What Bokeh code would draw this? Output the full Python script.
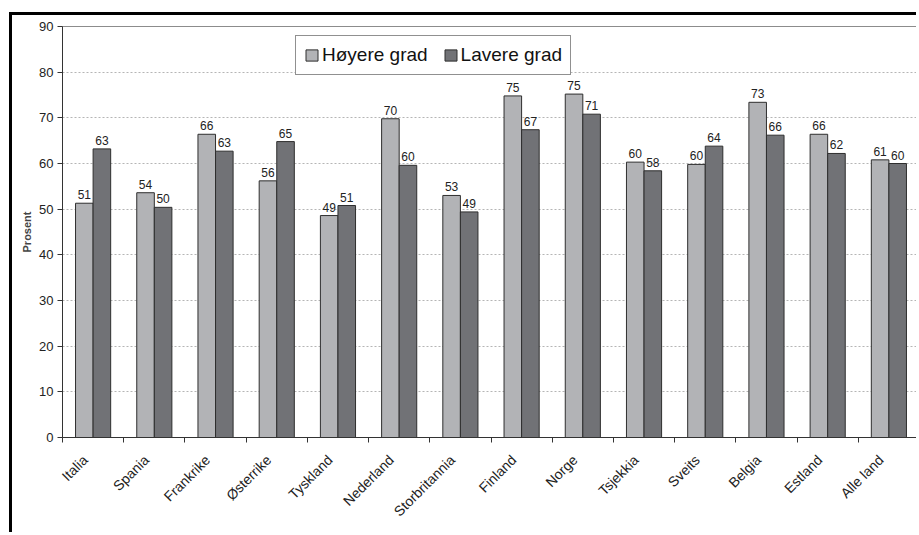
import math
from bokeh.plotting import figure
from bokeh.models import (ColumnDataSource, FixedTicker, Range1d, Legend, LegendItem,
                          LabelSet)
from bokeh.core.properties import value
from bokeh.embed import file_html
from bokeh.resources import INLINE

# Share of respondents (percent) by country, higher vs. lower education
countries = ["Italia", "Spania", "Frankrike", "Østerrike", "Tyskland", "Nederland",
             "Storbritannia", "Finland", "Norge", "Tsjekkia", "Sveits", "Belgia",
             "Estland", "Alle land"]
hoyere = [51.3, 53.6, 66.4, 56.2, 48.6, 69.8, 53.0, 74.8, 75.2, 60.3, 59.8, 73.4, 66.4, 60.8]
lavere = [63.2, 50.4, 62.7, 64.8, 50.8, 59.6, 49.4, 67.4, 70.8, 58.4, 63.8, 66.2, 62.2, 60.0]
series_names = ["Høyere grad", "Lavere grad"]
y_ticks = [0, 10, 20, 30, 40, 50, 60, 70, 80, 90]

FONT = "Liberation Sans"
LIGHT = "#b2b3b6"
DARK = "#717276"
EDGE = "#2e2e2e"

n = len(countries)
centers = [i + 0.5 for i in range(n)]
label_pos = [c - 0.13 for c in centers]
bw = 0.287

src = ColumnDataSource(dict(
    x_h=[c - bw / 2 for c in centers],
    x_l=[c + bw / 2 for c in centers],
    h=hoyere, l=lavere,
    h_lab=[str(round(v)) for v in hoyere],
    l_lab=[str(round(v)) for v in lavere],
))

p = figure(width=907, height=520, x_range=Range1d(0, n), y_range=Range1d(0, 90),
           output_backend="svg", toolbar_location=None,
           min_border_left=50, min_border_right=0, min_border_top=11, min_border_bottom=98)
p.margin = (12, 0, 0, 9)
p.styles = {"border-top": "3px solid #000", "border-left": "3px solid #000"}
p.background_fill_color = "white"
p.border_fill_color = "white"
p.outline_line_color = "#8c8c8c"
p.outline_line_width = 1

r_h = p.vbar(x="x_h", top="h", width=bw, source=src, fill_color=LIGHT,
             line_color=EDGE, line_width=1)
r_l = p.vbar(x="x_l", top="l", width=bw, source=src, fill_color=DARK,
             line_color=EDGE, line_width=1)

for xcol, ycol, tcol in (("x_h", "h", "h_lab"), ("x_l", "l", "l_lab")):
    p.add_layout(LabelSet(x=xcol, y=ycol, text=tcol, source=src, y_offset=4,
                          text_align="center", text_baseline="bottom",
                          text_font=value(FONT), text_font_size=value("12px"),
                          text_color=value("#222222")))

# x axis: labels under category centres, tick marks at category boundaries
xa = p.xaxis[0]
xa.ticker = FixedTicker(ticks=label_pos, minor_ticks=list(range(n + 1)))
xa.major_label_overrides = {c: name for c, name in zip(label_pos, countries)}
xa.major_label_orientation = math.pi / 4
xa.major_tick_line_color = None
xa.minor_tick_line_color = "#333333"
xa.minor_tick_out = 5
xa.minor_tick_in = 0
xa.axis_line_color = "#333333"
xa.major_label_text_font = FONT
xa.major_label_text_font_size = "14px"
xa.major_label_text_color = "#222222"
xa.major_label_standoff = 14

ya = p.yaxis[0]
ya.ticker = FixedTicker(ticks=y_ticks)
ya.minor_tick_line_color = None
ya.major_tick_out = 5
ya.major_tick_in = 0
ya.major_tick_line_color = "#333333"
ya.axis_line_color = "#333333"
ya.major_label_text_font = FONT
ya.major_label_text_font_size = "13px"
ya.major_label_text_color = "#222222"
ya.major_label_standoff = 4
ya.axis_label = "Prosent"
ya.axis_label_text_font = FONT
ya.axis_label_text_font_style = "bold"
ya.axis_label_text_font_size = "11px"
ya.axis_label_standoff = 3

p.xgrid.grid_line_color = None
p.ygrid.grid_line_color = "#b5b5b5"
p.ygrid.grid_line_dash = "2 2"
p.ygrid.ticker = FixedTicker(ticks=y_ticks)

legend = Legend(items=[LegendItem(label=series_names[0], renderers=[r_h]),
                       LegendItem(label=series_names[1], renderers=[r_l])],
                orientation="horizontal", location=(233, 362),
                label_text_font=FONT, label_text_font_size="19px",
                label_text_color="#111111",
                glyph_width=15, glyph_height=14, label_standoff=3, spacing=15,
                padding=8, margin=0,
                border_line_color="#222222", border_line_width=1,
                background_fill_color="white", background_fill_alpha=1)
p.add_layout(legend, "center")

open("out.html", "w").write(file_html(p, INLINE))
